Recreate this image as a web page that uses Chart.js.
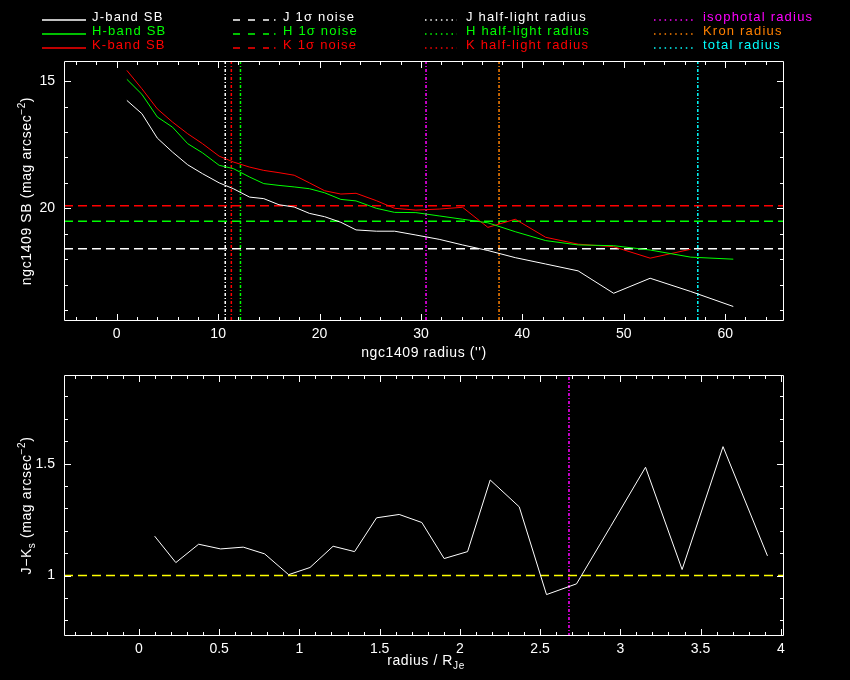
<!DOCTYPE html>
<html><head><meta charset="utf-8">
<script src="https://cdn.jsdelivr.net/npm/chart.js@4"></script>
<style>
html,body{margin:0;padding:0;background:#000;width:850px;height:680px;overflow:hidden}
canvas{position:absolute;left:0}
#c1{top:0;width:850px;height:365px}
#c2{top:340px;width:850px;height:340px}
svg{position:absolute;left:0;top:0}
</style></head><body>
<canvas id="c1" width="850" height="365"></canvas>
<canvas id="c2" width="850" height="340"></canvas>
<svg id="leg" width="850" height="60"></svg>
<script>
const FONT = "'Liberation Sans', Arial, sans-serif";

// ---------- top panel: surface-brightness profiles ----------
const radiusArcsec = [1.0, 2.48, 4.0, 5.5, 7.0, 8.46, 10.1, 11.5, 13.1, 14.5, 16.0, 17.5, 19.0, 20.5, 22.1, 23.6, 25.6, 27.4, 29.5, 31.8, 34.1, 36.6, 39.3, 42.3, 45.5, 49.0, 52.6, 56.6, 60.8];
const sbJ = [15.76, 16.28, 17.24, 17.79, 18.29, 18.64, 19.0, 19.23, 19.56, 19.62, 19.86, 19.95, 20.2, 20.33, 20.55, 20.85, 20.90, 20.90, 21.05, 21.22, 21.44, 21.66, 21.94, 22.19, 22.46, 23.34, 22.75, 23.27, 23.86];
const sbH = [14.93, 15.52, 16.41, 16.81, 17.46, 17.82, 18.31, 18.44, 18.77, 19.03, 19.10, 19.16, 19.23, 19.39, 19.65, 19.71, 20.0, 20.16, 20.17, 20.30, 20.43, 20.57, 20.92, 21.27, 21.44, 21.47, 21.64, 21.92, 22.0];
const sbK = [14.58, 15.30, 16.09, 16.61, 17.07, 17.46, 17.95, 18.18, 18.38, 18.51, 18.60, 18.70, 19.0, 19.31, 19.44, 19.41, 19.70, 20.0, 20.07, 20.03, 19.96, 20.75, 20.43, 21.14, 21.41, 21.51, 21.96, 21.61];
const noiseJ = 21.59, noiseH = 20.51, noiseK = 19.90;
const halfLightJ = 10.7, halfLightH = 12.2, halfLightK = 11.3;
const isophotalRadius = 30.5, kronRadius = 37.7, totalRadius = 57.3;
const topXRange = [-5.2, 65.8];
const topYRange = [14.21, 24.43];

// ---------- bottom panel: J-Ks colour profile ----------
const radiusNorm = [0.098, 0.23, 0.372, 0.509, 0.65, 0.783, 0.933, 1.066, 1.21, 1.344, 1.481, 1.622, 1.763, 1.902, 2.048, 2.189, 2.37, 2.54, 2.727, 2.94, 3.157, 3.385, 3.64, 3.917];
const colourJK = [1.176, 1.058, 1.14, 1.119, 1.127, 1.097, 1.004, 1.036, 1.131, 1.107, 1.258, 1.273, 1.237, 1.076, 1.107, 1.427, 1.307, 0.915, 0.963, 1.22, 1.484, 1.027, 1.576, 1.088];
const colourRef = 1.0;
const isophotalNorm = 2.68;
const botXRange = [-0.467, 4.02];
const botYRange = [0.73, 1.896];

// ---------- legend ----------
const legendLabels = [
  ['J-band SB', 'J 1σ noise', 'J half-light radius', 'isophotal radius'],
  ['H-band SB', 'H 1σ noise', 'H half-light radius', 'Kron radius'],
  ['K-band SB', 'K 1σ noise', 'K half-light radius', 'total radius']
];
const bandColours = ['#ffffff', '#00ff00', '#ff0000'];
const radiusColours = ['#ff00ff', '#ff8000', '#00ffff'];

const pts = (xs, ys) => ys.map((y, i) => ({x: xs[i], y}));
const hline = (y, r) => [{x: r[0], y}, {x: r[1], y}];
const vline = (x, r) => [{x, y: r[0]}, {x, y: r[1]}];
const DASH = [9, 5], DOT = [3, 2, 1, 2];
function ds(data, color, dash, width) {
  return {data, borderColor: color, borderWidth: width || 1, borderDash: dash || [], pointRadius: 0, fill: false, tension: 0};
}
function isMajor(v, step) { const q = v / step; return Math.abs(q - Math.round(q)) < 1e-6; }

function drawRich(ctx, parts, cx, cy, angle) {
  ctx.save();
  ctx.translate(cx, cy); ctx.rotate(angle);
  ctx.fillStyle = '#fff'; ctx.textBaseline = 'alphabetic'; ctx.textAlign = 'left';
  try { ctx.letterSpacing = '0.6px'; } catch (e) {}
  const fontFor = p => (p.s ? '10px ' : '14px ') + FONT;
  let w = 0;
  parts.forEach(p => { ctx.font = fontFor(p); w += ctx.measureText(p.t).width; });
  let x = -w / 2;
  parts.forEach(p => {
    ctx.font = fontFor(p);
    const dy = p.s === 'sup' ? -6 : (p.s === 'sub' ? 4 : 0);
    ctx.fillText(p.t, x, dy);
    x += ctx.measureText(p.t).width;
  });
  ctx.restore();
}

const framePlugin = {
  id: 'frame',
  afterDatasetsDraw(chart, args, o) {
    const {ctx, chartArea: a} = chart;
    const xs = chart.scales.x, ys = chart.scales.y;
    ctx.save();
    ctx.strokeStyle = '#fff'; ctx.lineWidth = 1; ctx.setLineDash([]);
    ctx.beginPath();
    ctx.rect(a.left + 0.5, a.top + 0.5, a.right - a.left - 1, a.bottom - a.top - 1);
    xs.ticks.forEach(t => {
      const p = Math.round(xs.getPixelForValue(t.value)) + 0.5;
      const L = isMajor(t.value, o.xMajor) ? 7 : 4;
      ctx.moveTo(p, a.bottom); ctx.lineTo(p, a.bottom - L);
      ctx.moveTo(p, a.top); ctx.lineTo(p, a.top + L);
    });
    ys.ticks.forEach(t => {
      const p = Math.round(ys.getPixelForValue(t.value)) + 0.5;
      const L = isMajor(t.value, o.yMajor) ? 7 : 4;
      ctx.moveTo(a.left, p); ctx.lineTo(a.left + L, p);
      ctx.moveTo(a.right, p); ctx.lineTo(a.right - L, p);
    });
    ctx.stroke();
    drawRich(ctx, o.xTitle, o.xTitleX, o.xTitleY, 0);
    drawRich(ctx, o.yTitle, o.yTitleX, (a.top + a.bottom) / 2, -Math.PI / 2);
    ctx.restore();
  }
};

function axisX(range, step, major, fmt) {
  return {
    type: 'linear', min: range[0], max: range[1],
    grid: {display: false, drawTicks: false}, border: {display: false},
    ticks: {stepSize: step, includeBounds: false, autoSkip: false, maxRotation: 0, minRotation: 0,
      color: '#fff', font: {family: FONT, size: 14}, padding: 5,
      callback: v => isMajor(v, major) ? fmt(v) : ''},
    afterFit: s => { s.height = 44; }
  };
}
function axisY(range, step, major, fmt, reverse) {
  return {
    type: 'linear', min: range[0], max: range[1], reverse: !!reverse,
    grid: {display: false, drawTicks: false}, border: {display: false},
    ticks: {stepSize: step, includeBounds: false, autoSkip: false,
      color: '#fff', font: {family: FONT, size: 14}, padding: 9,
      callback: v => isMajor(v, major) ? fmt(v) : ''},
    afterFit: s => { s.width = 64; }
  };
}
const fmt = v => String(Number(v.toFixed(2)));

// ---------- top chart ----------
new Chart(document.getElementById('c1'), {
  type: 'line',
  data: {datasets: [
    ds(pts(radiusArcsec, sbJ), bandColours[0]),
    ds(pts(radiusArcsec, sbH), bandColours[1]),
    ds(pts(radiusArcsec, sbK), bandColours[2]),
    ds(hline(noiseJ, topXRange), bandColours[0], DASH, 1.5),
    ds(hline(noiseH, topXRange), bandColours[1], DASH, 1.5),
    ds(hline(noiseK, topXRange), bandColours[2], DASH, 1.5),
    ds(vline(halfLightJ, topYRange), bandColours[0], DOT, 1.5),
    ds(vline(halfLightK, topYRange), bandColours[2], DOT, 1.5),
    ds(vline(halfLightH, topYRange), bandColours[1], DOT, 1.5),
    ds(vline(isophotalRadius, topYRange), radiusColours[0], DOT, 1.5),
    ds(vline(kronRadius, topYRange), radiusColours[1], DOT, 1.5),
    ds(vline(totalRadius, topYRange), radiusColours[2], DOT, 1.5)
  ]},
  options: {
    responsive: false, animation: false, events: [],
    layout: {padding: {left: 0, right: 66, top: 61, bottom: 0}},
    scales: {
      x: axisX(topXRange, 2, 10, fmt),
      y: axisY(topYRange, 1, 5, fmt, true)
    },
    plugins: {
      legend: {display: false}, tooltip: {enabled: false},
      frame: {xMajor: 10, yMajor: 5,
        xTitle: [{t: "ngc1409 radius ('')"}], xTitleX: 424, xTitleY: 357,
        yTitle: [{t: 'ngc1409 SB (mag arcsec'}, {t: '−2', s: 'sup'}, {t: ')'}], yTitleX: 31}
    }
  },
  plugins: [framePlugin]
});

// ---------- bottom chart ----------
new Chart(document.getElementById('c2'), {
  type: 'line',
  data: {datasets: [
    ds(pts(radiusNorm, colourJK), '#ffffff'),
    ds(hline(colourRef, botXRange), '#ffff00', DASH, 1.5),
    ds(vline(isophotalNorm, botYRange), '#ff00ff', DOT, 1.5)
  ]},
  options: {
    responsive: false, animation: false, events: [],
    layout: {padding: {left: 0, right: 66, top: 35, bottom: 0}},
    scales: {
      x: axisX(botXRange, 0.1, 0.5, fmt),
      y: axisY(botYRange, 0.1, 0.5, fmt)
    },
    plugins: {
      legend: {display: false}, tooltip: {enabled: false},
      frame: {xMajor: 0.5, yMajor: 0.5,
        xTitle: [{t: 'radius / R'}, {t: 'Je', s: 'sub'}], xTitleX: 426, xTitleY: 325,
        yTitle: [{t: 'J−K'}, {t: 's', s: 'sub'}, {t: ' (mag arcsec'}, {t: '−2', s: 'sup'}, {t: ')'}], yTitleX: 31}
    }
  },
  plugins: [framePlugin]
});

// ---------- legend (SVG, real text) ----------
(function () {
  const svg = document.getElementById('leg');
  const NS = 'http://www.w3.org/2000/svg';
  const rowBase = [20.5, 34.5, 48.5];
  const cols = [
    {x0: 42, x1: 86, tx: 92, dash: ''},
    {x0: 233, x1: 277, tx: 283, dash: '7 8 7 8 6 5 1.5 30'},
    {x0: 425, x1: 457, tx: 466, dash: '1.5 3.8'},
    {x0: 654, x1: 693, tx: 703, dash: '1.5 3.8'}
  ];
  legendLabels.forEach((row, r) => {
    row.forEach((label, c) => {
      const col = cols[c];
      const colour = c === 3 ? radiusColours[r] : bandColours[r];
      const ln = document.createElementNS(NS, 'line');
      ln.setAttribute('x1', col.x0); ln.setAttribute('x2', col.x1);
      ln.setAttribute('y1', rowBase[r] - 0.5); ln.setAttribute('y2', rowBase[r] - 0.5);
      ln.setAttribute('stroke', colour); ln.setAttribute('stroke-width', '1.3');
      if (col.dash) ln.setAttribute('stroke-dasharray', col.dash);
      svg.appendChild(ln);
      const tx = document.createElementNS(NS, 'text');
      tx.setAttribute('x', col.tx); tx.setAttribute('y', rowBase[r]);
      tx.setAttribute('fill', colour);
      tx.setAttribute('font-family', FONT); tx.setAttribute('font-size', '13');
      tx.setAttribute('letter-spacing', '1.2');
      tx.textContent = label;
      svg.appendChild(tx);
    });
  });
})();
</script>
</body></html>
